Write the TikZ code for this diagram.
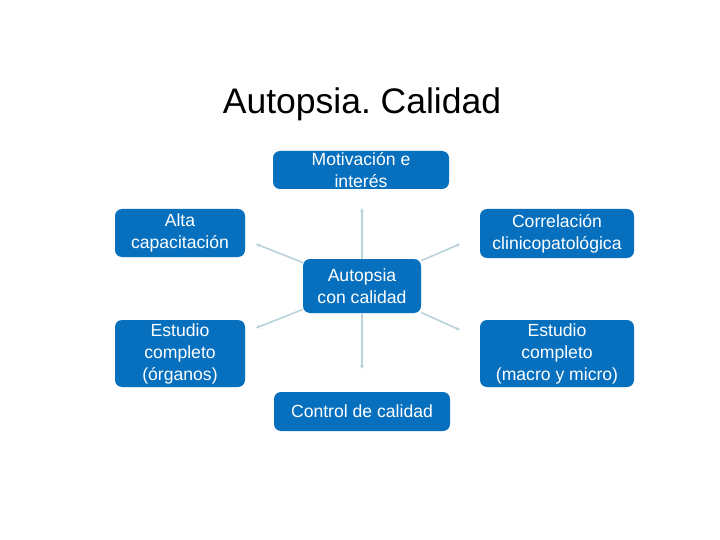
\documentclass[tikz,border=0pt]{standalone}
\usepackage{fontspec}
\setmainfont{Liberation Sans}
\usetikzlibrary{arrows.meta}
\definecolor{boxblue}{RGB}{6,111,190}
\definecolor{linecol}{RGB}{186,210,220}
\frenchspacing
\begin{document}
\begin{tikzpicture}[x=1pt,y=-1pt,
  box/.style={draw=none,fill=boxblue,rounded corners=7pt,text=white,align=center,
    inner sep=0pt,font=\fontsize{17.6}{22}\selectfont},
  conn/.style={draw=linecol,line width=1.6pt,-{Stealth[length=4pt,width=4pt]}}]
\useasboundingbox (0,0) rectangle (720,540);
\fill[white] (0,0) rectangle (720,540);
\node[font=\fontsize{35.5}{40}\selectfont] (title) at (362,104) {Autopsia. Calidad};
\node[box,minimum width=176pt,minimum height=38pt] (mot) at (361,170) {Motivación e\\interés};
\node[box,minimum width=130pt,minimum height=48pt] (alta) at (180,233) {Alta\\capacitación};
\node[box,minimum width=154pt,minimum height=49pt] (corr) at (557,233.5) {Correlación\\clinicopatológica};
\node[box,minimum width=118pt,minimum height=54pt] (c) at (362,286) {Autopsia\\con calidad};
\node[box,minimum width=130pt,minimum height=67pt] (org) at (180,353.5) {Estudio\\completo\\(órganos)};
\node[box,minimum width=154pt,minimum height=67pt] (mac) at (557,353.5) {Estudio\\completo\\(macro y micro)};
\node[box,minimum width=176pt,minimum height=39pt] (ctl) at (362,411.5) {Control de calidad};
\coordinate (tmot) at (362,208);
\coordinate (talta) at (256,244);
\coordinate (tcorr) at (460,244);
\coordinate (torg) at (256,328);
\coordinate (tmac) at (460,330);
\coordinate (tctl) at (362,369);
\draw[conn] (c.north) -- (tmot);
\draw[conn] (c) -- (talta);
\draw[conn] (c) -- (tcorr);
\draw[conn] (c) -- (torg);
\draw[conn] (c) -- (tmac);
\draw[conn] (c.south) -- (tctl);
\end{tikzpicture}
\end{document}
